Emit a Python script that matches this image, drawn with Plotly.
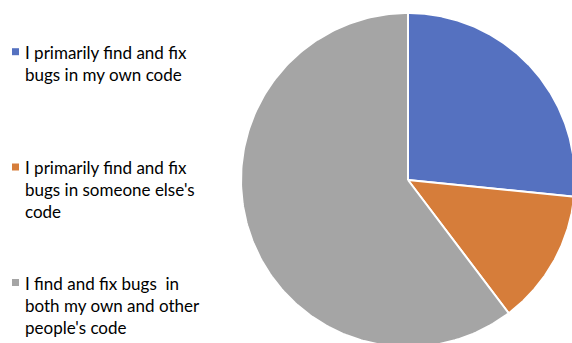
import numpy as np
import plotly.graph_objects as go

# Share of respondents by how they find and fix bugs
categories = [
    "I primarily find and fix<br>bugs in my own code",
    "I primarily find and fix<br>bugs in someone else's<br>code",
    "I find and fix bugs  in<br>both my own and other<br>people's code",
]
shares = [26.6, 13.1, 60.3]
colors = ["#5571C0", "#D67D3A", "#A5A5A5"]

W, H = 572, 343
cx_px, cy_px, r_px = 408, 180, 167  # pie centre and radius in pixels

fig = go.Figure()

# Wedges: clockwise from 12 o'clock, one filled polygon per category
frac = np.array(shares) / np.sum(shares)
edges = np.concatenate([[0.0], np.cumsum(frac)])
for i, (lab, col) in enumerate(zip(categories, colors)):
    t = np.linspace(edges[i], edges[i + 1], 200)
    ang = np.pi / 2 - 2 * np.pi * t
    xs = np.concatenate([[0.0], np.cos(ang), [0.0]])
    ys = np.concatenate([[0.0], np.sin(ang), [0.0]])
    fig.add_trace(go.Scatter(
        x=xs, y=ys, mode="lines", fill="toself", fillcolor=col,
        line=dict(color="white", width=2), name=lab.replace("<br>", " "),
        hoverinfo="name", showlegend=False,
    ))

# Legend: small square swatch plus wrapped label for each category
swatch_y = [51.7, 167, 282.5]
label_top = [41, 155.5, 271.5]
for lab, col, sy, ty in zip(categories, colors, swatch_y, label_top):
    fig.add_shape(
        type="rect", xref="paper", yref="paper",
        x0=12 / W, x1=19 / W, y0=1 - (sy + 3.5) / H, y1=1 - (sy - 3.5) / H,
        fillcolor=col, line=dict(width=0),
    )
    fig.add_annotation(
        text=lab, xref="paper", yref="paper", x=24 / W, y=1 - ty / H,
        xanchor="left", yanchor="top", align="left", showarrow=False,
        font=dict(family="Lato", size=17, color="#000000"), borderpad=0,
    )

fig.update_layout(
    width=W, height=H,
    margin=dict(l=0, r=0, t=0, b=0),
    paper_bgcolor="white", plot_bgcolor="white",
    xaxis=dict(range=[-cx_px / r_px, (W - cx_px) / r_px], visible=False, fixedrange=True),
    yaxis=dict(range=[-(H - cy_px) / r_px, cy_px / r_px], visible=False, fixedrange=True),
    showlegend=False,
)

fig.write_html("out.html")
